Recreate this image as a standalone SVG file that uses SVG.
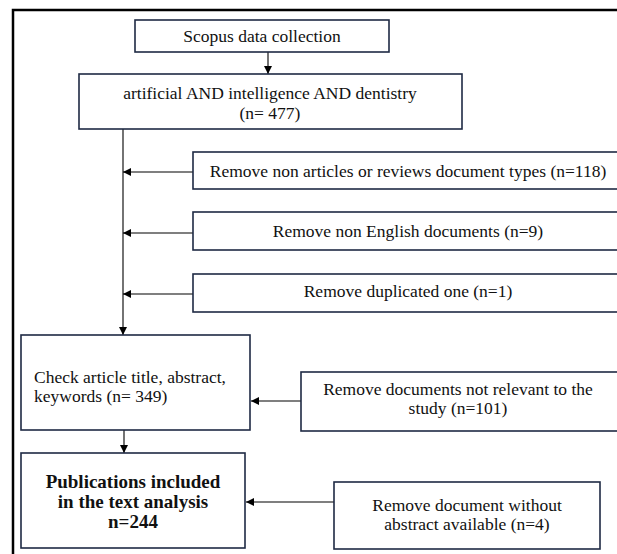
<svg xmlns="http://www.w3.org/2000/svg" width="617" height="554" viewBox="0 0 617 554">
<defs>
<marker id="ah" viewBox="0 0 10 10" refX="10" refY="5" markerWidth="8" markerHeight="8" markerUnits="userSpaceOnUse" orient="auto">
<path d="M0,0 L10,5 L0,10 z" fill="#000"/>
</marker>
<style>
.box{fill:#fff;stroke:#1f2a44;stroke-width:1.6}
.t{font-family:"Liberation Serif","Times New Roman",serif;font-size:17.5px;fill:#111}
.b{font-family:"Liberation Serif","Times New Roman",serif;font-size:19px;font-weight:bold;fill:#111}
.c{text-anchor:middle}
.ln{stroke:#000;stroke-width:1.1;fill:none}
</style>
</defs>
<rect width="617" height="554" fill="#fff"/>
<rect x="13" y="10" width="640" height="580" fill="none" stroke="#000" stroke-width="2.5"/>
<g id="connectors">
<line class="ln" x1="268" y1="52" x2="268" y2="74" marker-end="url(#ah)"/>
<line class="ln" x1="123" y1="129" x2="123" y2="335" marker-end="url(#ah)"/>
<line class="ln" x1="193" y1="172" x2="123" y2="172" marker-end="url(#ah)"/>
<line class="ln" x1="193" y1="233" x2="123" y2="233" marker-end="url(#ah)"/>
<line class="ln" x1="193" y1="294" x2="123" y2="294" marker-end="url(#ah)"/>
<line class="ln" x1="124" y1="430" x2="124" y2="453" marker-end="url(#ah)"/>
<line class="ln" x1="301" y1="401" x2="251" y2="401" marker-end="url(#ah)"/>
<line class="ln" x1="334" y1="502" x2="246" y2="502" marker-end="url(#ah)"/>
</g>
<g id="scopus">
<rect class="box" x="135" y="20" width="254" height="32"/>
<text class="t c" x="262" y="42">Scopus data collection</text>
</g>
<g id="query">
<rect class="box" x="79" y="74" width="383" height="55"/>
<text class="t c" x="270" y="99">artificial AND intelligence AND dentistry</text>
<text class="t c" x="270" y="119">(n= 477)</text>
</g>
<g id="remove-types">
<rect class="box" x="193" y="152" width="440" height="37"/>
<text class="t c" x="408" y="176.5">Remove non articles or reviews document types (n=118)</text>
</g>
<g id="remove-english">
<rect class="box" x="193" y="212" width="440" height="38"/>
<text class="t c" x="408" y="237">Remove non English documents (n=9)</text>
</g>
<g id="remove-dup">
<rect class="box" x="193" y="274" width="440" height="38"/>
<text class="t c" x="408" y="297">Remove duplicated one (n=1)</text>
</g>
<g id="check">
<rect class="box" x="21" y="335" width="229" height="95"/>
<text class="t" x="34" y="383">Check article title, abstract,</text>
<text class="t" x="34" y="402">keywords (n= 349)</text>
</g>
<g id="remove-relevant">
<rect class="box" x="301" y="372" width="330" height="59"/>
<text class="t c" x="458" y="395">Remove documents not relevant to the</text>
<text class="t c" x="458" y="414">study (n=101)</text>
</g>
<g id="included">
<rect class="box" x="21" y="453" width="224" height="95"/>
<text class="b c" x="133" y="488">Publications included</text>
<text class="b c" x="133" y="508">in the text analysis</text>
<text class="b c" x="133" y="528">n=244</text>
</g>
<g id="remove-abstract">
<rect class="box" x="334" y="482" width="266" height="67"/>
<text class="t c" x="467" y="511">Remove document without</text>
<text class="t c" x="467" y="530">abstract available (n=4)</text>
</g>
</svg>
